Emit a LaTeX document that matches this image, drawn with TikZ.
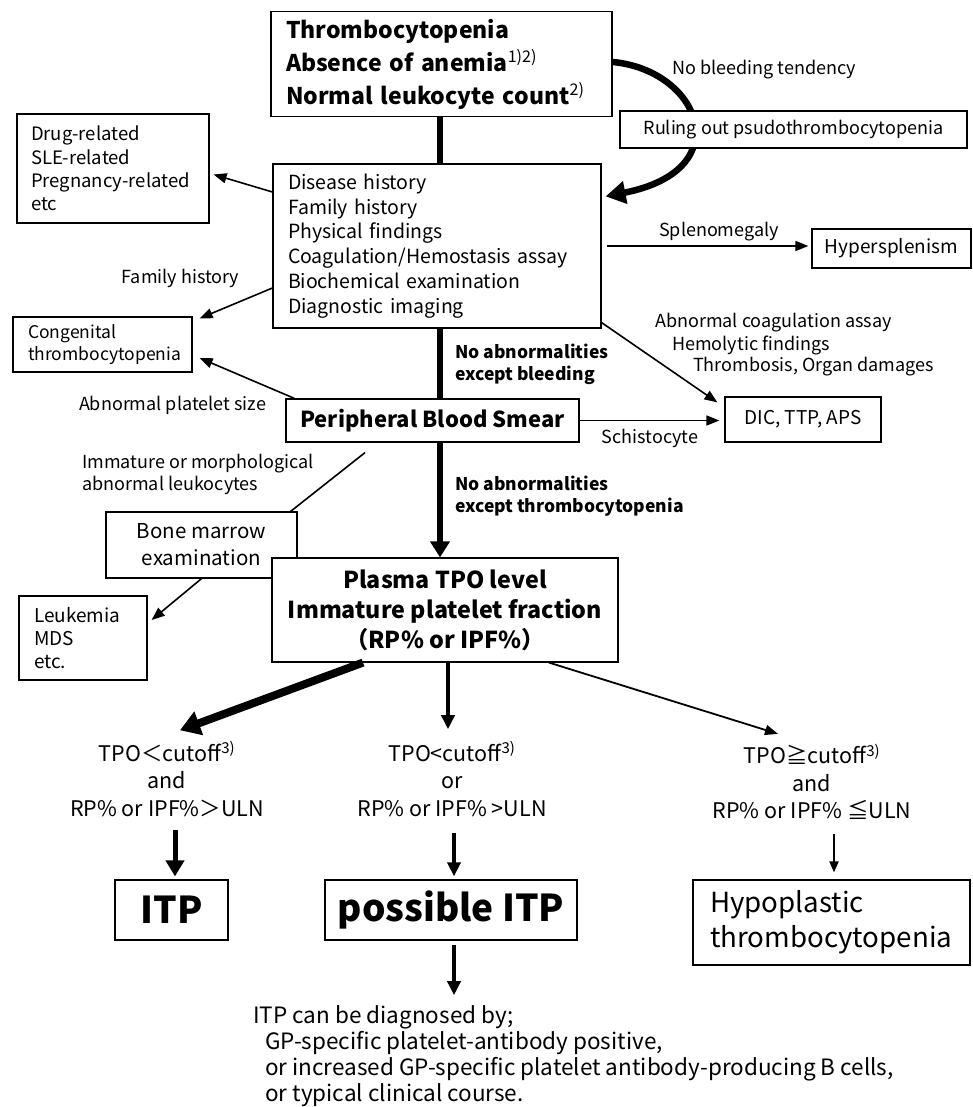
\documentclass[tikz,border=0pt]{standalone}
\usepackage{fontspec}
\setmainfont{Noto Sans CJK JP}
\usetikzlibrary{arrows.meta}
\newcommand{\fs}[2]{\fontsize{#1}{#2}\selectfont}

\begin{document}
\begin{tikzpicture}[x=1pt,y=-1pt,
  box/.style={draw,line width=1.2pt,fill=white,inner sep=0pt},
  lbl/.style={inner sep=0pt,font=\fs{18}{22}},
  arr/.style={line width=1.6pt,-{Triangle[length=13pt,width=10pt]}},
  arrM/.style={line width=3.5pt,-{Triangle[length=14pt,width=13pt]}},
  arrT/.style={line width=6.5pt,-{Triangle[length=16pt,width=19pt]}}]
\useasboundingbox (0,0) rectangle (972,1107);

% boxes
\node[box,minimum width=341pt,minimum height=105pt,text width=311pt,align=left,font=\fs{23}{33}\bfseries] (top) at (441.5,64)
  {Thrombocytopenia\\Absence of anemia{\mdseries\textsuperscript{1)2)}}\\Normal leukocyte count{\mdseries\textsuperscript{2)}}};
\node[box,minimum width=328pt,minimum height=164pt,text width=298pt,align=left,font=\fs{19.5}{24.7}] (disease) at (437,246)
  {Disease history\\Family history\\Physical findings\\Coagulation/Hemostasis assay\\Biochemical examination\\Diagnostic imaging};
\draw[line width=6.5pt,-{Triangle[length=20pt,width=22pt]}] ([yshift=2pt]top.east) .. controls (700,70) and (740,170) .. ([xshift=4pt,yshift=-33pt]disease.north east);
\node[box,minimum width=347pt,minimum height=37pt,font=\fs{18}{22}] (rule) at (793.5,129.5) {Ruling out psudothrombocytopenia};
\node[box,minimum width=192pt,minimum height=109pt,text width=164pt,align=left,font=\fs{18.5}{23.3}] (drug) at (113,168.5)
  {Drug-related\\SLE-related\\Pregnancy-related\\etc};
\node[box,minimum width=179pt,minimum height=55pt,text width=149pt,align=left,font=\fs{17.5}{22}] (congen) at (102.5,344.5)
  {Congenital\\thrombocytopenia};
\node[box,minimum width=159pt,minimum height=39pt,font=\fs{19}{22}] (hyper) at (891.5,248.5) {Hypersplenism};
\node[box,minimum width=293pt,minimum height=43pt,font=\fs{22}{26}\bfseries] (periph) at (432.5,420.5) {Peripheral Blood Smear};
\node[box,minimum width=156pt,minimum height=45pt,font=\fs{19}{22}] (dic) at (803,419.5) {DIC, TTP, APS};
\node[box,minimum width=191pt,minimum height=66pt,align=center,font=\fs{20.5}{27}] (bm) at (201.5,545) {Bone marrow\\examination};
\node[box,minimum width=128pt,minimum height=84pt,text width=98pt,align=left,font=\fs{19}{23}] (leuk) at (83,638)
  {Leukemia\\MDS\\etc.};
\node[box,minimum width=346pt,minimum height=104pt,align=center,font=\fs{23.3}{30}\bfseries] (plasma) at (445,610)
  {Plasma TPO level\\Immature platelet fraction\\（RP\% or IPF\%）};

% conditions
\node[align=center,inner sep=0pt,font=\fs{21.5}{27.5}] (cond1) at (167,779)
  {TPO＜cutoff\textsuperscript{3)}\\and\\RP\% or IPF\%＞ULN};
\node[align=center,inner sep=0pt,font=\fs{21.5}{27.5}] (cond2) at (452,779)
  {TPO<cutoff\textsuperscript{3)}\\or\\RP\% or IPF\% >ULN};
\node[align=center,inner sep=0pt,font=\fs{21.5}{27.5}] (cond3) at (812,782)
  {TPO≧cutoff\textsuperscript{3)}\\and\\RP\% or IPF\% ≦ULN};
\node[box,minimum width=113pt,minimum height=60pt,font=\fs{37}{42}\bfseries] (itp) at (171.5,910) {ITP};
\node[box,minimum width=252pt,minimum height=60pt,font=\fs{37}{42}\bfseries] (pitp) at (451,910) {possible ITP};
\node[box,minimum width=277pt,minimum height=85pt,text width=243pt,align=left,font=\fs{27.7}{35}] (hypo) at (831.5,922.5)
  {Hypoplastic\\thrombocytopenia};
\node[anchor=west,align=left,inner sep=0pt,font=\fs{22.5}{26}] (diag) at (253,1056)
  {ITP can be diagnosed by;\\\hspace*{12pt}GP-specific platelet-antibody positive,\\\hspace*{12pt}or increased GP-specific platelet antibody-producing B cells,\\\hspace*{12pt}or typical clinical course.};

% labels
\node[lbl,anchor=west] (nobleed) at (672,70) {No bleeding tendency};
\node[lbl] (famhist) at (180.5,278) {Family history};
\node[lbl] (spleno) at (719,232) {Splenomegaly};
\node[lbl,anchor=west] (abncoag) at (655,323) {Abnormal coagulation assay};
\node[lbl,anchor=west] (hemol) at (672,345) {Hemolytic findings};
\node[lbl,anchor=west] (thromb) at (693,367) {Thrombosis, Organ damages};
\node[lbl] (plsize) at (172.5,405) {Abnormal platelet size};
\node[lbl,anchor=west,align=left] (immat) at (82,474) {Immature or morphological\\abnormal leukocytes};
\node[lbl] (schisto) at (650,438) {Schistocyte};
\node[anchor=west,align=left,inner sep=0pt,font=\fs{17.5}{21.5}\bfseries] (noab1) at (455,364.5) {No abnormalities\\except bleeding};
\node[anchor=west,align=left,inner sep=0pt,font=\fs{17.5}{21.5}\bfseries] (noab2) at (455,496) {No abnormalities\\except thrombocytopenia};

% main line
\draw[line width=6.5pt] ([xshift=-1.5pt]top.south) -- ([xshift=-1.5pt]top.south |- disease.north);
\draw[line width=6.5pt] ([xshift=-1.5pt]top.south |- disease.south) -- ([xshift=-1.5pt]top.south |- periph.north);
\draw[arrT] ([xshift=-1.5pt]top.south |- periph.south) -- ([xshift=-1.5pt]top.south |- plasma.north);

% side arrows
\draw[arr] ([yshift=54pt]disease.west) -- ([xshift=4pt,yshift=-6pt]drug.east);
\draw[arr] ([yshift=-42pt]disease.west) -- ([xshift=7pt,yshift=-2pt]congen.north east);
\draw[arr] ([xshift=5pt]disease.east) -- ([xshift=-3pt]disease.east -| hyper.west);
\draw[arr] ([yshift=6pt]disease.south east) -- ([xshift=-7pt,yshift=-6pt]dic.north west);
\draw[arr] ([xshift=9pt]periph.north west) -- ([xshift=7pt,yshift=-13.5pt]congen.east);
\draw[line width=1.6pt] ([xshift=-67.5pt,yshift=-10pt]periph.south) -- ([xshift=-7pt]bm.north east);
\draw[arr] (periph.east) -- ([xshift=-5pt]periph.east -| dic.west);
\draw[arr] (bm.south) -- ([xshift=4pt,yshift=18pt]leuk.east);

% lower arrows
\draw[line width=8pt,-{Triangle[length=20pt,width=24pt]}] ([xshift=-82pt]plasma.south) -- ([xshift=13pt,yshift=11pt]cond1.north);
\draw[arrM] ([xshift=3pt]plasma.south) -- ([xshift=3pt,yshift=12pt]plasma.south |- cond2.north);
\draw[line width=1.8pt,-{Triangle[length=13pt,width=10pt]}] ([xshift=104pt]plasma.south) -- ([xshift=-34pt,yshift=10pt]cond3.north);
\draw[line width=5pt,-{Triangle[length=16pt,width=18pt]}] ([xshift=3.5pt,yshift=-13pt]itp.north |- cond1.south) -- ([xshift=3.5pt,yshift=3pt]itp.north);
\draw[arrM] ([xshift=3pt,yshift=-16pt]pitp.north |- cond2.south) -- ([xshift=3pt,yshift=3pt]pitp.north);
\draw[line width=2pt,-{Triangle[length=11pt,width=9pt]}] ([xshift=2.5pt,yshift=-14pt]hypo.north |- cond3.south) -- ([xshift=2.5pt,yshift=7pt]hypo.north);
\draw[arrM] ([xshift=3pt,yshift=-4pt]pitp.south) -- ([xshift=3pt,yshift=10pt]pitp.south |- diag.north);
\end{tikzpicture}
\end{document}
